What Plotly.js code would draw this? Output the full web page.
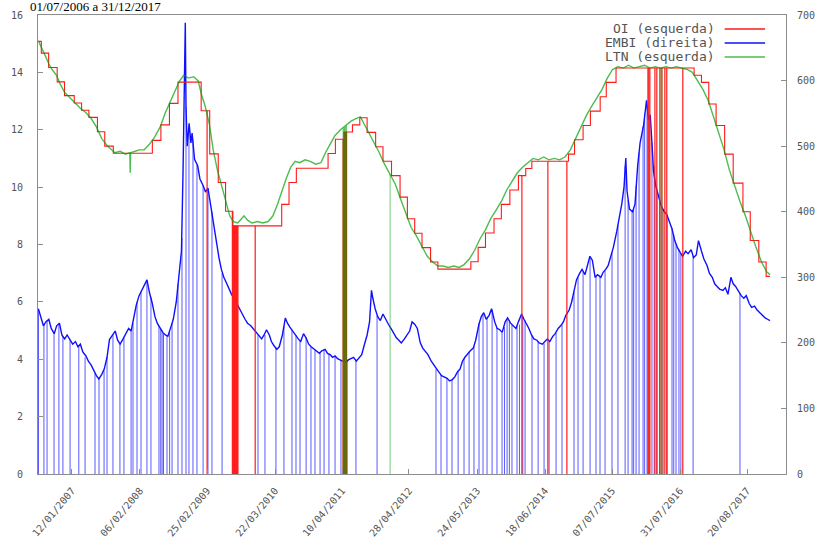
<!DOCTYPE html>
<html>
<head>
<meta charset="utf-8">
<script src="https://cdn.plot.ly/plotly-3.0.1.min.js"></script>
<style>html,body{margin:0;padding:0;background:#fff;}#chart{width:830px;height:556px;}</style>
</head>
<body>
<div id="chart"></div>
<script>
// ---------- OI (esquerda) : step series ----------
const oiDates = ['2006-07-03','2006-07-20','2006-08-31','2006-10-19','2006-11-30','2007-01-25','2007-03-08','2007-04-19','2007-06-07','2007-07-19','2007-09-06','2008-04-17','2008-06-05','2008-07-24','2008-09-11','2009-01-22','2009-03-12','2009-04-30','2009-06-11','2009-07-23','2010-04-29','2010-06-10','2010-07-22','2011-01-20','2011-03-03','2011-04-21','2011-06-09','2011-07-21','2011-09-01','2011-10-20','2011-12-01','2012-01-19','2012-03-08','2012-04-19','2012-05-31','2012-07-12','2012-08-30','2012-10-11','2013-04-18','2013-05-30','2013-07-11','2013-08-29','2013-10-10','2013-11-28','2014-01-16','2014-02-27','2014-04-03','2014-10-30','2014-12-04','2015-01-22','2015-03-05','2015-04-30','2015-06-04','2015-07-30','2016-10-20','2016-12-01','2017-01-12','2017-02-23','2017-04-13','2017-06-01','2017-07-27','2017-09-07','2017-10-26','2017-12-07','2017-12-29'];
const oiValues = [15.08,14.67,14.17,13.67,13.19,12.93,12.68,12.43,11.93,11.43,11.18,11.63,12.17,12.92,13.66,12.66,11.16,10.16,9.16,8.65,9.40,10.16,10.66,11.17,11.67,11.92,12.17,12.42,11.91,11.41,10.90,10.40,9.65,8.90,8.39,7.89,7.39,7.14,7.40,7.90,8.40,8.90,9.40,9.90,10.40,10.65,10.90,11.15,11.65,12.15,12.65,13.15,13.65,14.15,13.90,13.65,12.90,12.15,11.15,10.14,9.14,8.14,7.39,6.89,6.89];
const oiGapDates = ['2009-02-25','2009-07-20','2009-07-24','2009-07-28','2009-08-01','2009-08-05','2009-08-09','2009-08-13','2009-08-17','2009-08-21','2009-11-28','2011-04-16','2011-04-20','2011-04-24','2011-04-28','2011-05-02','2011-05-06','2014-02-05','2014-07-04','2014-10-21','2016-01-29','2016-02-03','2016-02-09','2016-03-09','2016-03-20','2016-04-07','2016-04-18','2016-05-05','2016-05-16','2016-08-16'];
const oiGapTops = [12.66,9.16,8.65,8.65,8.65,8.65,8.65,8.65,8.65,8.65,8.65,11.67,11.67,11.92,11.92,11.92,11.92,10.40,10.90,10.90,14.15,14.15,14.15,14.15,14.15,14.15,14.15,14.15,14.15,14.15];

// ---------- EMBI (direita) ----------
const embiDates = ['2006-07-03','2006-07-17','2006-08-01','2006-08-15','2006-09-01','2006-09-15','2006-10-02','2006-10-16','2006-11-01','2006-11-15','2006-12-01','2006-12-15',
'2007-01-02','2007-01-16','2007-02-01','2007-02-15','2007-03-01','2007-03-15','2007-04-02','2007-04-16','2007-05-02','2007-05-16','2007-06-01','2007-06-15','2007-07-02','2007-07-16','2007-08-01','2007-08-15','2007-09-03','2007-09-17','2007-10-01','2007-10-15','2007-11-01','2007-11-16','2007-12-03','2007-12-17',
'2008-01-02','2008-01-16','2008-02-01','2008-02-15','2008-03-03','2008-03-17','2008-04-01','2008-04-15','2008-05-02','2008-05-15','2008-06-02','2008-06-16','2008-07-01','2008-07-15','2008-08-01','2008-08-15','2008-09-01','2008-09-15','2008-10-01','2008-10-10','2008-10-16','2008-10-23','2008-10-27','2008-11-03','2008-11-14','2008-11-24','2008-12-01','2008-12-15',
'2009-01-02','2009-01-15','2009-02-02','2009-02-16','2009-03-02','2009-03-16','2009-04-01','2009-04-15','2009-05-04','2009-05-18','2009-06-01','2009-06-15','2009-07-01','2009-07-15','2009-08-03','2009-08-17','2009-09-01','2009-09-15','2009-10-01','2009-10-15','2009-11-03','2009-11-16','2009-12-01','2009-12-15',
'2010-01-04','2010-01-18','2010-02-01','2010-02-17','2010-03-01','2010-03-15','2010-04-01','2010-04-15','2010-05-03','2010-05-20','2010-06-01','2010-06-15','2010-07-01','2010-07-15','2010-08-02','2010-08-16','2010-09-01','2010-09-15','2010-10-01','2010-10-15','2010-11-01','2010-11-16','2010-12-01','2010-12-15',
'2011-01-03','2011-01-17','2011-02-01','2011-02-15','2011-03-01','2011-03-15','2011-04-01','2011-04-15','2011-05-02','2011-05-16','2011-06-01','2011-06-15','2011-07-01','2011-07-15','2011-08-01','2011-08-15','2011-09-01','2011-09-15','2011-09-26','2011-10-04','2011-10-17','2011-11-01','2011-11-16','2011-12-01','2011-12-15',
'2012-01-02','2012-01-16','2012-02-01','2012-02-15','2012-03-01','2012-03-15','2012-04-02','2012-04-16','2012-05-02','2012-05-16','2012-06-01','2012-06-15','2012-07-02','2012-07-16','2012-08-01','2012-08-15','2012-09-03','2012-09-17','2012-10-01','2012-10-15','2012-11-01','2012-11-16','2012-12-03','2012-12-17',
'2013-01-02','2013-01-16','2013-02-01','2013-02-15','2013-03-01','2013-03-15','2013-04-01','2013-04-15','2013-05-02','2013-05-16','2013-06-03','2013-06-17','2013-07-01','2013-07-15','2013-08-01','2013-08-15','2013-09-02','2013-09-16','2013-10-01','2013-10-15','2013-11-01','2013-11-15','2013-12-02','2013-12-16',
'2014-01-02','2014-01-16','2014-02-03','2014-02-17','2014-03-03','2014-03-17','2014-04-01','2014-04-15','2014-05-02','2014-05-15','2014-06-02','2014-06-16','2014-07-01','2014-07-15','2014-08-01','2014-08-15','2014-09-01','2014-09-15','2014-10-01','2014-10-15','2014-11-03','2014-11-17','2014-12-01','2014-12-15',
'2015-01-02','2015-01-16','2015-02-02','2015-02-16','2015-03-02','2015-03-16','2015-04-01','2015-04-15','2015-05-04','2015-05-18','2015-06-01','2015-06-15','2015-07-01','2015-07-15','2015-08-03','2015-08-17','2015-09-01','2015-09-14','2015-09-24','2015-10-01','2015-10-15','2015-11-02','2015-11-16','2015-12-01','2015-12-15',
'2016-01-04','2016-01-14','2016-01-21','2016-02-01','2016-02-11','2016-02-22','2016-03-01','2016-03-15','2016-04-01','2016-04-15','2016-05-02','2016-05-16','2016-06-01','2016-06-15','2016-07-01','2016-07-15','2016-08-01','2016-08-15','2016-09-01','2016-09-15','2016-10-03','2016-10-17','2016-11-01','2016-11-14','2016-12-01','2016-12-15',
'2017-01-02','2017-01-16','2017-02-01','2017-02-15','2017-03-01','2017-03-15','2017-04-03','2017-04-17','2017-05-02','2017-05-19','2017-06-01','2017-06-15','2017-07-03','2017-07-17','2017-08-01','2017-08-15','2017-09-01','2017-09-15','2017-10-02','2017-10-16','2017-11-01','2017-11-16','2017-12-01','2017-12-15','2017-12-29'];
const embiValues = [252,238,226,232,236,222,214,226,230,212,206,212,
205,198,202,194,198,186,180,172,166,158,150,145,152,160,178,205,212,218,204,198,206,214,222,218,
240,258,272,280,288,296,276,262,240,230,222,216,212,210,224,236,262,296,340,460,560,688,560,500,535,505,520,480,
470,450,440,430,436,412,388,362,330,312,300,292,282,274,266,258,250,244,236,230,226,222,218,212,
206,212,220,212,202,196,190,194,212,238,230,224,218,212,206,202,214,208,198,194,190,186,184,188,
190,184,182,178,180,176,174,172,170,174,176,178,172,176,182,196,212,232,280,268,252,240,234,244,236,
228,222,214,208,204,200,206,212,218,232,228,222,200,192,186,182,172,166,160,156,150,148,146,142,
144,148,156,160,172,178,184,188,192,204,228,240,246,236,242,252,232,222,220,216,232,238,230,226,
222,232,244,236,230,222,212,206,204,200,198,202,206,202,210,214,222,226,232,242,250,262,278,296,
306,312,304,318,332,326,300,304,300,308,312,318,332,346,370,388,412,438,482,432,404,400,412,470,505,
532,558,570,540,548,500,462,438,420,408,400,396,384,374,356,346,338,332,340,336,342,330,334,356,340,328,
318,306,300,290,286,282,280,284,274,300,290,286,278,272,268,272,260,254,256,250,246,242,238,236,234];
const embiGapDates = ['2006-07-04','2006-08-04','2006-08-22','2006-10-01','2006-10-29','2006-11-21','2007-01-01','2007-02-20','2007-03-28','2007-05-24','2007-06-16','2007-07-15','2007-08-01','2007-09-04','2007-10-14','2007-11-06','2007-12-17','2007-12-28','2008-01-20','2008-02-12','2008-03-17','2008-04-09','2008-05-25','2008-06-04','2008-06-12','2008-06-20','2008-07-10','2008-07-25','2008-08-08','2008-09-11','2008-10-04','2008-10-27','2008-11-13','2008-12-06','2008-12-29','2009-02-02','2009-03-02','2009-03-25','2009-05-22','2009-12-14','2010-01-23','2010-03-27','2010-05-12','2010-06-27','2010-07-20','2010-08-12','2010-09-16','2010-10-14','2010-11-06','2010-12-05','2010-12-28','2011-01-25','2011-03-01','2011-04-04','2011-05-09','2011-06-29','2011-10-28','2012-09-30','2012-10-29','2012-12-02','2012-12-31','2013-02-04','2013-03-10','2013-04-08','2013-05-06','2013-06-04','2013-06-27','2013-07-20','2013-08-18','2013-09-15','2013-10-14','2013-10-28','2013-11-12','2013-11-25','2013-12-10','2014-01-08','2014-01-22','2014-02-10','2014-02-23','2014-04-04','2014-05-09','2014-06-12','2014-07-11','2014-08-20','2014-09-23','2014-12-01','2014-12-24','2015-01-22','2015-03-03','2015-04-06','2015-04-29','2015-05-28','2015-07-07','2015-08-10','2015-09-20','2015-10-07','2015-10-30','2015-11-08','2015-11-22','2015-12-09','2016-01-01','2016-01-10','2016-01-24','2016-02-05','2016-02-21','2016-03-05','2016-03-21','2016-04-05','2016-04-25','2016-05-18','2016-06-15','2016-06-25','2016-07-08','2016-07-25','2016-08-05','2016-10-14','2017-07-10'];
const embiGapTops = [250,228,234,216,228,210,205,196,178,154,146,158,178,212,198,208,218,230,262,278,296,270,226,222,219,215,211,218,230,290,360,560,530,510,472,440,436,400,306,212,212,194,225,220,212,203,208,194,189,185,189,183,180,174,172,175,242,160,151,146,144,157,176,186,195,230,243,238,250,222,216,224,236,234,228,226,228,240,234,211,202,199,203,215,228,278,300,308,332,301,302,310,338,380,470,418,401,404,440,490,530,550,565,544,505,470,430,422,404,394,374,365,350,342,336,332,275];

// ---------- LTN (esquerda) ----------
const ltnDates = ['2006-07-03','2006-07-20','2006-08-10','2006-09-01','2006-09-20','2006-10-15','2006-11-05','2006-12-01','2007-01-01','2007-02-01','2007-03-01','2007-04-01','2007-05-01','2007-06-01','2007-07-01','2007-08-01','2007-08-25','2007-09-15','2007-10-15','2007-11-15','2007-12-10','2007-12-12','2007-12-14','2008-01-10','2008-02-01','2008-03-01','2008-04-01','2008-05-01','2008-06-01','2008-07-01','2008-08-01','2008-09-01','2008-09-20','2008-10-15','2008-11-10','2008-12-10','2009-01-05','2009-01-25','2009-02-15','2009-03-10','2009-04-01','2009-04-25','2009-05-20','2009-06-15','2009-07-05','2009-07-25','2009-08-20','2009-09-10','2009-09-25','2009-10-15','2009-11-10','2009-12-10','2010-01-10','2010-02-10','2010-03-10','2010-04-05','2010-05-01','2010-05-25','2010-06-20','2010-07-15','2010-08-10','2010-09-10','2010-10-10','2010-11-10','2010-12-10','2011-01-05','2011-02-01','2011-03-01','2011-04-01','2011-05-01','2011-06-01','2011-07-01','2011-07-25','2011-08-15','2011-09-10','2011-10-10','2011-11-10','2011-12-10','2012-01-10','2012-02-10','2012-03-10','2012-04-10','2012-05-10','2012-06-10','2012-07-10','2012-08-10','2012-09-10','2012-10-10','2012-11-10','2012-12-10','2013-01-10','2013-02-10','2013-03-10','2013-04-10','2013-05-10','2013-06-10','2013-07-10','2013-08-10','2013-09-10','2013-10-10','2013-11-10','2013-12-10','2014-01-10','2014-02-10','2014-03-10','2014-04-10','2014-05-10','2014-06-10','2014-07-10','2014-08-10','2014-09-10','2014-10-10','2014-11-10','2014-12-10','2015-01-10','2015-02-10','2015-03-10','2015-04-10','2015-05-10','2015-06-10','2015-07-10','2015-08-10','2015-09-10','2015-10-10','2015-11-10','2015-12-10','2016-01-10','2016-02-10','2016-03-10','2016-04-10','2016-05-10','2016-06-10','2016-07-10','2016-08-10','2016-09-10','2016-10-10','2016-11-10','2016-12-10','2017-01-10','2017-02-10','2017-03-10','2017-04-10','2017-05-10','2017-06-10','2017-07-10','2017-08-10','2017-09-10','2017-10-10','2017-11-10','2017-12-10','2017-12-29'];
const ltnValues = [15.1,14.9,14.6,14.3,14.1,13.9,13.6,13.3,13.1,12.9,12.75,12.6,12.4,12.1,11.7,11.45,11.3,11.2,11.25,11.15,11.2,10.5,11.2,11.25,11.3,11.3,11.5,11.75,12.1,12.6,13.0,13.4,13.7,13.9,13.8,13.85,13.7,13.2,12.8,12.2,11.3,10.6,10.0,9.4,9.0,8.8,8.75,8.9,9.0,8.85,8.75,8.8,8.75,8.8,9.0,9.4,9.9,10.3,10.7,10.9,10.85,10.95,10.9,10.8,10.85,11.2,11.5,11.8,12.0,12.15,12.3,12.4,12.45,12.2,11.9,11.6,11.2,10.8,10.45,10.1,9.6,9.1,8.6,8.3,7.95,7.6,7.4,7.25,7.25,7.2,7.25,7.2,7.3,7.5,7.8,8.2,8.5,8.9,9.2,9.5,9.9,10.2,10.5,10.7,10.85,11.0,10.95,11.05,10.95,11.0,10.95,11.05,11.3,11.7,12.1,12.5,12.8,13.1,13.4,13.8,14.1,14.2,14.15,14.25,14.15,14.2,14.25,14.15,14.2,14.15,14.2,14.15,14.2,14.15,14.1,14.0,13.7,13.4,13.0,12.4,11.9,11.3,10.6,10.0,9.5,9.0,8.4,7.9,7.4,7.05,6.95];
const ltnGapDates = ['2011-04-16','2011-04-20','2011-04-24','2011-04-28','2011-05-02','2011-05-06','2012-01-11','2016-04-07','2016-04-18'];
const ltnGapTops = [12.05,12.05,12.1,12.1,12.15,12.15,10.45,14.15,14.15];

// ---------- x tick labels ----------
const xTickDates = ['2007-01-12','2008-02-06','2009-02-25','2010-03-22','2011-04-10','2012-04-28','2013-05-24','2014-06-18','2015-07-07','2016-07-31','2017-08-20'];
const xTickLabels = ['12/01/2007','06/02/2008','25/02/2009','22/03/2010','10/04/2011','28/04/2012','24/05/2013','18/06/2014','07/07/2015','31/07/2016','20/08/2017'];

const legendNames = ['OI (esquerda)','EMBI (direita)','LTN (esquerda)'];
const titleText = '01/07/2006 a 31/12/2017';

function drops(dates, tops) {
  const x = [], y = [];
  dates.forEach((d, i) => { x.push(d, d, null); y.push(0, tops[i], null); });
  return {x, y};
}

const RED = '#ff1a1a', BLUE = '#1010ff', GREEN = 'rgba(0,160,0,0.7)';
const oiD = drops(oiGapDates, oiGapTops);
const emD = drops(embiGapDates, embiGapTops);
const ltD = drops(ltnGapDates, ltnGapTops);

const traces = [
  {x: embiDates, y: embiValues, yaxis: 'y', type: 'scatter', mode: 'lines', name: legendNames[1], line: {color: BLUE, width: 1.4}, hoverinfo: 'skip'},
  {x: emD.x, y: emD.y, yaxis: 'y', type: 'scatter', mode: 'lines', line: {color: 'rgba(20,20,255,0.7)', width: 1}, connectgaps: false, hoverinfo: 'skip'},
  {x: oiDates, y: oiValues, yaxis: 'y2', type: 'scatter', mode: 'lines', name: legendNames[0], line: {color: RED, width: 1.1, shape: 'hv'}, hoverinfo: 'skip'},
  {x: oiD.x, y: oiD.y, yaxis: 'y2', type: 'scatter', mode: 'lines', line: {color: RED, width: 1.2}, connectgaps: false, hoverinfo: 'skip'},
  {x: ltnDates, y: ltnValues, yaxis: 'y2', type: 'scatter', mode: 'lines', name: legendNames[2], line: {color: GREEN, width: 1.4}, hoverinfo: 'skip'},
  {x: ltD.x, y: ltD.y, yaxis: 'y2', type: 'scatter', mode: 'lines', line: {color: 'rgba(0,160,0,0.45)', width: 1.2}, connectgaps: false, hoverinfo: 'skip'}
];

const tickFont = {family: 'DejaVu Sans Mono, monospace', size: 10, color: '#555'};
const axisCommon = {showgrid: false, zeroline: false, showline: true, linecolor: '#8c8c8c', linewidth: 1, ticks: 'inside', ticklen: 5, tickcolor: '#8c8c8c', tickfont: tickFont};

// legend drawn as annotations + sample lines (text on the left, sample on the right)
const legY = [0.9695, 0.939, 0.9085];
const legColors = [RED, BLUE, GREEN];
const annotations = legendNames.map((n, i) => ({
  xref: 'paper', yref: 'paper', x: 0.9078, y: legY[i], xanchor: 'right', yanchor: 'middle',
  text: n, showarrow: false, font: {family: 'DejaVu Sans Mono, monospace', size: 13, color: '#555'}
}));
annotations.push({xref: 'paper', yref: 'paper', x: -0.0134, y: 1, xanchor: 'left', yanchor: 'bottom', yshift: -1,
  text: titleText, showarrow: false, font: {family: 'Liberation Serif, serif', size: 13, color: '#000'}});
const shapes = legendNames.map((n, i) => ({
  type: 'line', xref: 'paper', yref: 'paper', x0: 0.918, x1: 0.972, y0: legY[i], y1: legY[i],
  line: {color: legColors[i], width: 1.3}
}));

const layout = {
  width: 830, height: 556,
  margin: {l: 38, r: 44, t: 15, b: 82, pad: 0},
  paper_bgcolor: '#fff', plot_bgcolor: '#fff',
  showlegend: false,
  xaxis: Object.assign({}, axisCommon, {type: 'date', range: ['2006-07-01', '2018-03-31'], tickmode: 'array', tickvals: xTickDates, ticktext: xTickLabels, tickangle: -50, mirror: true, ticklabelstandoff: 6}),
  yaxis: Object.assign({}, axisCommon, {side: 'right', range: [0, 700], dtick: 100, tick0: 0, ticklabelstandoff: 8}),
  yaxis2: Object.assign({}, axisCommon, {overlaying: 'y', side: 'left', range: [0, 16], dtick: 2, tick0: 0, ticklabelstandoff: 12}),
  annotations: annotations,
  shapes: shapes
};

Plotly.newPlot('chart', traces, layout, {displayModeBar: false, staticPlot: true});
</script>
</body>
</html>
